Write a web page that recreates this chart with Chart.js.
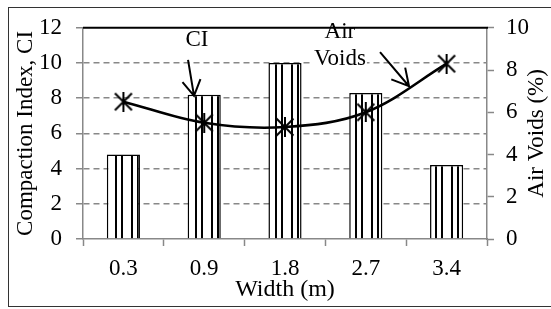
<!DOCTYPE html>
<html><head><meta charset="utf-8">
<script src="https://cdn.jsdelivr.net/npm/chart.js@4.4.1/dist/chart.umd.min.js"></script>
<style>html,body{margin:0;padding:0;background:#fff;}#wrap{width:551px;height:309px;position:relative;}</style>
</head><body><div id="wrap"><canvas id="c" width="551" height="309"></canvas></div>
<script>
// ---- data ----
const categories = ['0.3', '0.9', '1.8', '2.7', '3.4'];
const compactionIndex = [4.8, 8.2, 10.0, 8.3, 4.2];
const airVoids = [6.5, 5.5, 5.3, 6.0, 8.3];
const leftTicks = [0, 2, 4, 6, 8, 10, 12];
const rightTicks = [0, 2, 4, 6, 8, 10];
const xTitle = 'Width (m)';
const leftTitle = 'Compaction Index, CI';
const rightTitle = 'Air Voids (%)';
// annotation anchors in data units: [category index, left-axis value]
const ciLabel = {text: ['CI'], at: [0.91, 11.32]};
const ciArrow = {from: [0.80, 10.18], to: [0.874, 8.13]};
const avLabel = {text: ['Air', 'Voids'], at: [2.68, 11.78]};
const avArrow = {from: [3.176, 10.62], to: [3.535, 8.68]};

const FONT = 'Liberation Serif';
const GREY = '#888888';

// hatch pattern for bars
function makePattern() {
  const p = document.createElement('canvas');
  p.width = 16; p.height = 16;
  const g = p.getContext('2d');
  g.fillStyle = '#fff'; g.fillRect(0, 0, 16, 16);
  g.fillStyle = '#000';
  g.fillRect(3, 0, 2, 16);
  g.fillRect(9, 0, 2, 16);
  return g.createPattern(p, 'repeat');
}
// star marker (X + vertical bar)
function makeStar() {
  const s = document.createElement('canvas');
  s.width = 20; s.height = 20;
  const g = s.getContext('2d');
  g.strokeStyle = '#000'; g.lineWidth = 2;
  g.beginPath();
  g.moveTo(1.5, 1.5); g.lineTo(18.5, 18.5);
  g.moveTo(18.5, 1.5); g.lineTo(1.5, 18.5);
  g.moveTo(10, 0); g.lineTo(10, 20);
  g.stroke();
  return s;
}

function arrow(ctx, x1, y1, x2, y2, len, ang) {
  const a = Math.atan2(y2 - y1, x2 - x1);
  ctx.beginPath();
  ctx.moveTo(x1, y1); ctx.lineTo(x2, y2);
  ctx.moveTo(x2 - len * Math.cos(a - ang), y2 - len * Math.sin(a - ang));
  ctx.lineTo(x2, y2);
  ctx.lineTo(x2 - len * Math.cos(a + ang), y2 - len * Math.sin(a + ang));
  ctx.stroke();
}

const decor = {
  id: 'decor',
  afterDatasetsDraw(chart) {
    const {ctx, chartArea: ca, scales: {x, y}} = chart;
    const P = (pt) => [x.getPixelForValue(pt[0]), y.getPixelForValue(pt[1])];
    ctx.save();
    ctx.font = '23px "' + FONT + '"';
    ctx.textAlign = 'center';
    ctx.textBaseline = 'middle';
    [ciLabel, avLabel].forEach(l => {
      const [px, py] = P(l.at);
      l.text.forEach((t, i) => {
        const yy = py + i * 27;
        const w = ctx.measureText(t).width;
        ctx.fillStyle = '#fff';
        ctx.fillRect(px - w / 2 - 1, yy - 6, w + 2, 16);
      });
      ctx.fillStyle = '#000';
      l.text.forEach((t, i) => ctx.fillText(t, px, py + i * 27));
    });
    // top frame line
    ctx.strokeStyle = '#000';
    ctx.lineWidth = 2;
    ctx.beginPath();
    ctx.moveTo(ca.left, ca.top); ctx.lineTo(ca.right + 1, ca.top);
    ctx.stroke();
    // arrows
    ctx.lineWidth = 2;
    let a = P(ciArrow.from), b = P(ciArrow.to);
    arrow(ctx, a[0], a[1], b[0], b[1], 18, 0.53);
    a = P(avArrow.from); b = P(avArrow.to);
    arrow(ctx, a[0], a[1], b[0], b[1], 19, 0.5);
    // right axis title (reads bottom to top)
    ctx.save();
    ctx.translate(ca.right + 50, (ca.top + ca.bottom) / 2);
    ctx.rotate(-Math.PI / 2);
    ctx.fillStyle = '#000';
    ctx.fillText(rightTitle, 0, 0);
    ctx.restore();
    // outer border
    ctx.strokeStyle = '#333';
    ctx.lineWidth = 1;
    ctx.strokeRect(8.5, 7.5, 600, 299);
    ctx.restore();
  }
};

Chart.defaults.font.family = FONT;
Chart.defaults.font.size = 23;
Chart.defaults.color = '#000';

new Chart(document.getElementById('c'), {
  data: {
    labels: categories,
    datasets: [
      {
        type: 'line', label: 'Air Voids', data: airVoids, yAxisID: 'y1', order: 0,
        borderColor: '#000', borderWidth: 2.6, tension: 0.35, fill: false,
        pointStyle: makeStar(), pointRadius: 10, pointHoverRadius: 10
      },
      {
        type: 'bar', label: 'CI', data: compactionIndex, yAxisID: 'y', order: 1,
        backgroundColor: makePattern(), borderColor: '#000', borderWidth: 1.5,
        categoryPercentage: 1, barPercentage: 0.41
      }
    ]
  },
  options: {
    responsive: false, animation: false,
    layout: {padding: {top: 22, left: 0, right: 0, bottom: 0}},
    plugins: {legend: {display: false}, tooltip: {enabled: false}},
    scales: {
      x: {
        type: 'category', offset: true,
        grid: {offset: true, drawOnChartArea: false, tickLength: 7, tickColor: GREY, tickWidth: 1.5},
        border: {color: GREY, width: 1.5},
        ticks: {padding: 9, font: {size: 23}},
        title: {display: true, text: xTitle, font: {size: 24}, padding: {top: 0, bottom: 5}},
        afterFit(s) { s.height = 70; }
      },
      y: {
        position: 'left', min: leftTicks[0], max: leftTicks[leftTicks.length - 1],
        afterBuildTicks(s) { s.ticks = leftTicks.map(v => ({value: v})); },
        grid: {
          color: (c) => (c.tick && (c.tick.value === 0 || c.tick.value === 12)) ? 'rgba(0,0,0,0)' : GREY,
          lineWidth: 1.5, tickLength: 7, tickColor: GREY, tickWidth: 1.5
        },
        border: {color: GREY, width: 1.5, dash: [6, 4]},
        ticks: {padding: 14, font: {size: 23}},
        title: {display: true, text: leftTitle, font: {size: 23}, padding: {top: 12, bottom: 0}},
        afterFit(s) { s.width = 83; }
      },
      y1: {
        position: 'right', min: rightTicks[0], max: rightTicks[rightTicks.length - 1],
        afterBuildTicks(s) { s.ticks = rightTicks.map(v => ({value: v})); },
        grid: {drawOnChartArea: false, tickLength: 7, tickColor: GREY, tickWidth: 1.5},
        border: {color: GREY, width: 1.5},
        ticks: {padding: 12, font: {size: 23}},
        afterFit(s) { s.width = 64; }
      }
    }
  },
  plugins: [decor]
});
</script></body></html>
